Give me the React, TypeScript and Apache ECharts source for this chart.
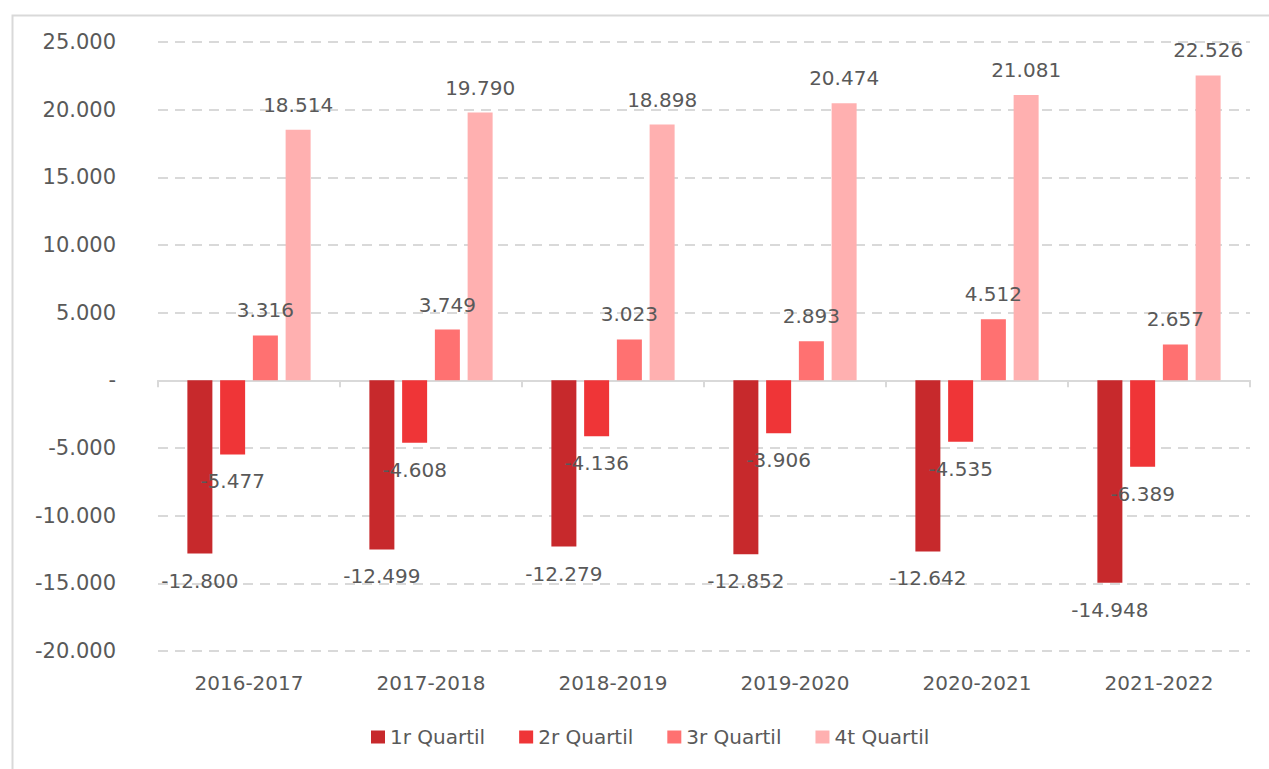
import React, { useEffect, useRef } from "react";
import * as echarts from "echarts";

const categories = ["2016-2017", "2017-2018", "2018-2019", "2019-2020", "2020-2021", "2021-2022"];
const seriesNames = ["1r Quartil", "2r Quartil", "3r Quartil", "4t Quartil"];
const q1 = [-12800, -12499, -12279, -12852, -12642, -14948];
const q2 = [-5477, -4608, -4136, -3906, -4535, -6389];
const q3 = [3316, 3749, 3023, 2893, 4512, 2657];
const q4 = [18514, 19790, 18898, 20474, 21081, 22526];
const colors = ["#C7292C", "#EF3537", "#FF7171", "#FFB0B0"];

const TXT = "#595959";
const FONT = "DejaVu Sans";

function fmt(v: number): string {
  if (v === 0) return "-";
  const sign = v < 0 ? "-" : "";
  const s = String(Math.round(Math.abs(v)));
  return sign + s.replace(/\B(?=(\d{3})+(?!\d))/g, ".");
}

export default function App() {
  const ref = useRef<HTMLDivElement>(null);
  useEffect(() => {
    if (!ref.current) return;
    const chart = echarts.init(ref.current, null, { renderer: "svg" });
    const all = [q1, q2, q3, q4];
    chart.setOption({
      animation: false,
      backgroundColor: "#ffffff",
      textStyle: { fontFamily: FONT },
      graphic: [
        {
          type: "rect",
          left: 10,
          top: 13,
          shape: { x: 0, y: 0, width: 1258, height: 800 },
          style: { fill: "none", stroke: "#D9D9D9", lineWidth: 2 },
          silent: true,
        },
      ],
      grid: { left: 158, right: 19, top: 42, bottom: 118, containLabel: false },
      legend: {
        top: 722,
        left: 366,
        icon: "rect",
        itemWidth: 14,
        itemHeight: 13,
        itemGap: 34,
        textStyle: { color: TXT, fontSize: 20, fontFamily: FONT },
        data: seriesNames,
      },
      xAxis: [
        {
          type: "category",
          data: categories,
          position: "bottom",
          axisLine: { show: false, onZero: false },
          axisTick: { show: false },
          axisLabel: { color: TXT, fontSize: 20, margin: 22, fontFamily: FONT },
          splitLine: { show: false },
        },
        {
          type: "category",
          data: categories,
          position: "bottom",
          axisLine: { show: true, onZero: true, lineStyle: { color: "#D9D9D9", width: 2 } },
          axisTick: { show: true, length: 7, lineStyle: { color: "#D9D9D9", width: 2 } },
          axisLabel: { show: false },
          splitLine: { show: false },
        },
      ],
      yAxis: {
        type: "value",
        min: -20000,
        max: 25000,
        interval: 5000,
        axisLine: { show: false },
        axisTick: { show: false },
        axisLabel: { color: TXT, fontSize: 21, margin: 42, formatter: (v: number) => fmt(v), fontFamily: FONT },
        splitLine: { show: true, lineStyle: { color: "#D9D9D9", width: 2, type: [10, 7] } },
      },
      series: all.map((arr, i) => ({
        name: seriesNames[i],
        type: "bar",
        xAxisIndex: 0,
        barWidth: 25,
        barGap: "31%",
        itemStyle: { color: colors[i] },
        data: arr.map((v) => ({
          value: v,
          label: {
            show: true,
            position: v < 0 ? "bottom" : "top",
            distance: v < 0 ? 17 : 15,
            color: TXT,
            fontSize: 20,
            fontFamily: FONT,
            formatter: (p: any) => fmt(p.value),
          },
        })),
      })),
    });
    return () => chart.dispose();
  }, []);
  return (
    <div
      ref={ref}
      style={{ position: "fixed", left: 0, top: 0, width: 1269, height: 769 }}
    />
  );
}
